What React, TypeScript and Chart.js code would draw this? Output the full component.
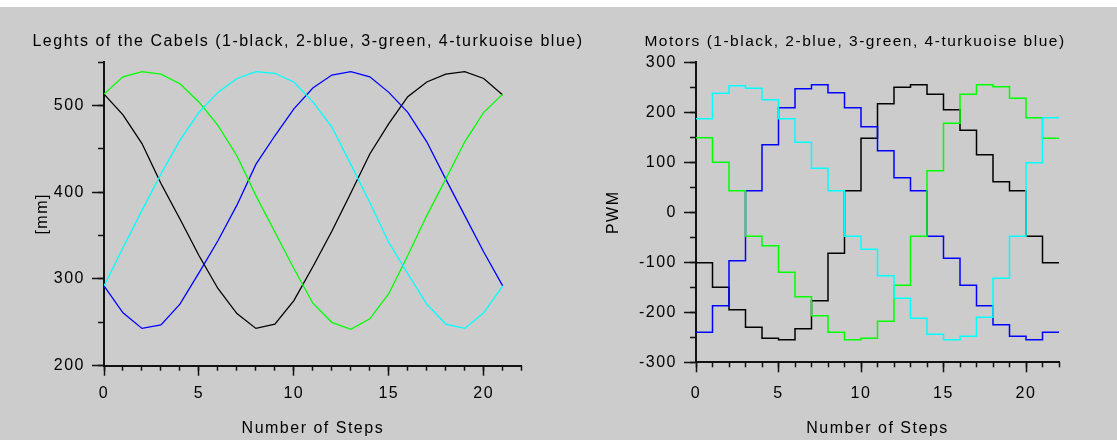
import React, { useEffect, useRef } from 'react';
import { Chart, registerables } from 'chart.js';

Chart.register(...registerables);

// ---------- data ----------
const cableTitle = 'Leghts of the Cabels (1-black, 2-blue, 3-green, 4-turkuoise blue)';
const motorTitle = 'Motors (1-black, 2-blue, 3-green, 4-turkuoise blue)';
const xAxisTitle = 'Number of Steps';
const cableYTitle = '[mm]';
const motorYTitle = 'PWM';
const seriesNames = ['1-black', '2-blue', '3-green', '4-turkuoise blue'];
const seriesColors = ['#000000', '#0000ff', '#00ff00', '#00ffff'];

// cable lengths [mm], one value per step 0..21
const cableBlack = [513, 489, 456, 410, 369, 327, 289, 260, 243, 248, 275, 314, 355, 399, 444, 479, 510, 527, 536, 539, 531, 512];
const cableBlue = [292, 261, 243, 247, 271, 307, 344, 385, 432, 465, 496, 520, 535, 539, 533, 515, 492, 458, 415, 373, 331, 292];
const cableGreen = [513, 533, 539, 536, 525, 504, 477, 442, 396, 354, 312, 272, 250, 242, 254, 283, 327, 373, 415, 458, 492, 513];
const cableCyan = [292, 336, 379, 421, 460, 492, 515, 531, 539, 537, 527, 504, 475, 432, 388, 342, 306, 271, 248, 243, 261, 292];

// motor PWM, value held during step i -> i+1 (steps 0..21)
const motorBlack = [-101, -150, -195, -230, -252, -255, -233, -177, -82, 43, 148, 217, 250, 255, 236, 205, 164, 115, 61, 43, -48, -101];
const motorBlue = [-240, -187, -97, 43, 135, 209, 247, 255, 239, 209, 171, 123, 69, 43, -48, -92, -146, -187, -225, -248, -255, -240];
const motorGreen = [149, 100, 43, -48, -67, -120, -169, -207, -240, -255, -252, -218, -146, -48, 83, 178, 236, 255, 251, 228, 189, 148];
const motorCyan = [187, 238, 253, 248, 225, 187, 140, 88, 43, -48, -74, -127, -172, -212, -244, -255, -248, -210, -132, -48, 99, 189];

const xMin = 0;
const xMax = 22;
const cableYMin = 200;
const cableYMax = 550;
const motorYMin = -300;
const motorYMax = 300;

// ---------- styling ----------
const FONT_FAMILY = '"Liberation Sans", Arial, sans-serif';
const TEXT_COLOR = '#000000';
const AXIS_COLOR = '#111111';
const BG = '#cccccc';

const font = (size: number) => ({ family: FONT_FAMILY, size, weight: 'normal' as const, lineHeight: 1.2 });

const spacingPlugin = {
  id: 'letterSpacingPlugin',
  beforeUpdate(chart: any) { chart.ctx.letterSpacing = '1.5px'; },
  beforeLayout(chart: any) { chart.ctx.letterSpacing = '1.5px'; },
  beforeDraw(chart: any) { chart.ctx.letterSpacing = '1.5px'; },
};

const titlePlacePlugin = {
  id: 'titlePlace',
  afterLayout(chart: any, _args: any, opts: any) {
    const tb = chart.titleBlock;
    if (tb && opts && typeof opts.center === 'number') {
      tb.left = opts.center - opts.half;
      tb.right = opts.center + opts.half;
    }
  },
};

function toPoints(values: number[], stepped: boolean) {
  const pts = values.map((v, i) => ({ x: i, y: v }));
  if (stepped) pts.push({ x: values.length, y: values[values.length - 1] });
  return pts;
}

interface PanelOpts {
  title: string;
  titleSize: number;
  yTitle: string;
  series: number[][];
  stepped: boolean;
  lineWidth: number;
  yMin: number;
  yMax: number;
  padRight: number;
  titleTop: number;
  titleBottom: number;
  titleCenter: number;
  titleHalf: number;
  yWidth: number;
  yTitlePad: number;
  xHeight: number;
  xTickPad: number;
}

function makeConfig(o: PanelOpts): any {
  const n = o.series.length;
  const datasets = o.series.map((vals, i) => ({
    label: seriesNames[i],
    data: toPoints(vals, o.stepped),
    borderColor: seriesColors[i],
    backgroundColor: seriesColors[i],
    borderWidth: o.lineWidth,
    pointRadius: 0,
    pointHoverRadius: 0,
    fill: false,
    tension: 0,
    stepped: o.stepped,
    order: n - 1 - i,
    xAxisID: 'x',
    yAxisID: 'y',
  }));
  const tickGrid = (len: number) => ({ display: true, drawOnChartArea: false, drawTicks: true, tickLength: len, tickWidth: 1.5, tickColor: AXIS_COLOR, color: AXIS_COLOR });
  return {
    type: 'line',
    data: { datasets },
    plugins: [spacingPlugin, titlePlacePlugin],
    options: {
      responsive: false,
      animation: false,
      devicePixelRatio: 1,
      events: [],
      layout: { padding: { left: 0, right: o.padRight, top: 0, bottom: 0 } },
      plugins: {
        legend: { display: false },
        tooltip: { enabled: false },
        title: {
          display: true,
          text: o.title,
          color: TEXT_COLOR,
          font: { family: FONT_FAMILY, size: o.titleSize, weight: 'normal', lineHeight: 19.2 / o.titleSize },
          padding: { top: o.titleTop, bottom: o.titleBottom },
        },
        titlePlace: { center: o.titleCenter, half: o.titleHalf },
      },
      scales: {
        x2: {
          type: 'linear', position: 'bottom', weight: 0, min: xMin, max: xMax,
          ticks: { display: false, stepSize: 1, autoSkip: false },
          grid: tickGrid(5),
          border: { display: false },
          afterFit: (s: any) => { s.height = 0; },
        },
        y2: {
          type: 'linear', position: 'left', weight: 0, min: o.yMin, max: o.yMax,
          ticks: { display: false, stepSize: 50, autoSkip: false },
          grid: tickGrid(6),
          border: { display: false },
          afterFit: (s: any) => { s.width = 0; },
        },
        x: {
          type: 'linear', position: 'bottom', weight: 1, min: xMin, max: xMax,
          ticks: { stepSize: 5, includeBounds: false, autoSkip: false, maxRotation: 0, color: TEXT_COLOR, font: font(16), padding: o.xTickPad, callback: (v: number) => String(v) },
          grid: tickGrid(10),
          border: { display: true, color: AXIS_COLOR, width: 2 },
          title: { display: true, text: xAxisTitle, color: TEXT_COLOR, font: font(16), padding: { top: 0, bottom: 1.4 } },
          afterFit: (s: any) => { s.height = o.xHeight; },
        },
        y: {
          type: 'linear', position: 'left', weight: 1, min: o.yMin, max: o.yMax,
          ticks: { stepSize: 100, includeBounds: false, autoSkip: false, color: TEXT_COLOR, font: font(16), padding: 7, callback: (v: number) => String(v) },
          grid: tickGrid(12),
          border: { display: true, color: AXIS_COLOR, width: 2 },
          title: { display: true, text: o.yTitle, color: TEXT_COLOR, font: font(16), padding: { top: o.yTitlePad, bottom: 0 } },
          afterFit: (s: any) => { s.width = o.yWidth; },
        },
      },
    },
  };
}

const LEFT_W = 600;
const RIGHT_X = 560;
const RIGHT_W = 557;

const cablePanel: PanelOpts = {
  title: cableTitle,
  titleSize: 16,
  yTitle: cableYTitle,
  series: [cableBlack, cableBlue, cableGreen, cableCyan],
  stepped: false,
  lineWidth: 1.3,
  yMin: cableYMin,
  yMax: cableYMax,
  padRight: LEFT_W - 521.7,
  titleTop: 25,
  titleBottom: 10.8,
  titleCenter: 308,
  titleHalf: 292,
  yWidth: 104,
  yTitlePad: 33.4,
  xHeight: 74.3,
  xTickPad: 8.7,
};

const motorPanel: PanelOpts = {
  title: motorTitle,
  titleSize: 15.5,
  yTitle: motorYTitle,
  series: [motorBlack, motorBlue, motorGreen, motorCyan],
  stepped: true,
  lineWidth: 1.5,
  yMin: motorYMin,
  yMax: motorYMax,
  padRight: RIGHT_W - (1059 - RIGHT_X),
  titleTop: 25,
  titleBottom: 11.1,
  titleCenter: 855 - RIGHT_X,
  titleHalf: 262,
  yWidth: 696 - RIGHT_X,
  yTitlePad: 43.8,
  xHeight: 77.7,
  xTickPad: 12.1,
};

export default function App() {
  const leftRef = useRef<HTMLCanvasElement>(null);
  const rightRef = useRef<HTMLCanvasElement>(null);

  useEffect(() => {
    const c1 = new Chart(leftRef.current as HTMLCanvasElement, makeConfig(cablePanel));
    const c2 = new Chart(rightRef.current as HTMLCanvasElement, makeConfig(motorPanel));
    return () => {
      c1.destroy();
      c2.destroy();
    };
  }, []);

  return (
    <div style={{ position: 'absolute', left: 0, top: 0, width: 1117, height: 446, background: '#ffffff', overflow: 'hidden' }}>
      <div style={{ position: 'absolute', left: 0, top: 7, width: 1117, height: 433, background: BG }}>
        <canvas ref={leftRef} width={LEFT_W} height={433} style={{ position: 'absolute', left: 0, top: 0, width: LEFT_W, height: 433 }} />
        <canvas ref={rightRef} width={RIGHT_W} height={433} style={{ position: 'absolute', left: RIGHT_X, top: 0, width: RIGHT_W, height: 433 }} />
      </div>
    </div>
  );
}
